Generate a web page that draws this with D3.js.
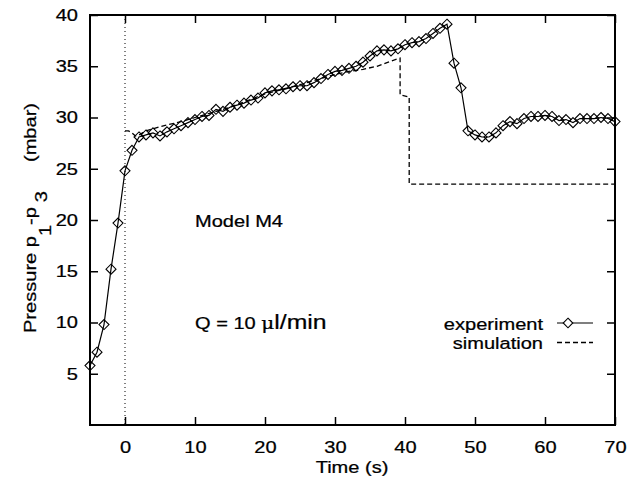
<!DOCTYPE html>
<html>
<head>
<meta charset="utf-8">
<script src="https://cdn.jsdelivr.net/npm/d3@7"></script>
<style>
  html, body { margin: 0; padding: 0; background: #fff; }
  svg { display: block; }
  text { font-family: "Liberation Sans", Arial, Helvetica, sans-serif; fill: #000; stroke: #000; stroke-width: 0.25; }
</style>
</head>
<body>
<svg id="chart" width="639" height="477"></svg>
<script>
// ---- data ----
const expTime = [-5,-4,-3,-2,-1,0,1,2,3,4,5,6,7,8,9,10,11,12,13,14,15,16,17,18,19,20,
  21,22,23,24,25,26,27,28,29,30,31,32,33,34,35,36,37,38,39,40,41,42,43,44,45,46,47,48,49,50,
  51,52,53,54,55,56,57,58,59,60,61,62,63,64,65,66,67,68,69,70];
const expPressure = [5.8,7.1,9.8,15.2,19.7,24.8,26.8,28.1,28.3,28.5,28.2,28.6,28.9,29.2,29.5,29.8,
  30.1,30.2,30.8,30.6,31.0,31.2,31.4,31.7,31.9,32.4,32.6,32.7,32.8,33.0,33.1,33.1,33.4,33.8,34.2,34.5,
  34.6,34.8,35.0,35.4,36.0,36.5,36.6,36.5,36.7,37.1,37.3,37.4,37.7,38.2,38.7,39.1,35.3,32.9,28.7,28.3,
  28.1,28.1,28.5,29.2,29.6,29.4,29.9,30.1,30.1,30.2,30.1,29.7,29.8,29.5,29.9,29.9,29.9,30.0,29.9,29.6];

const simTime = [0,0.5,1,1.5,2,3,5,8,10,15,20,25,28,30,32,34,36,38,39.3,39.3,40.6,40.6,70];
const simPressure = [28.7,28.7,28.5,28.2,28.3,28.7,29.1,29.6,30.0,31.0,32.3,33.2,33.8,34.2,34.5,34.7,35.0,35.5,35.8,32.2,32.0,23.5,23.5];

const xTicks = [0,10,20,30,40,50,60,70];
const yTicks = [5,10,15,20,25,30,35,40];
const xDomain = [-5, 70];
const yDomain = [0, 40];

// ---- layout ----
const svg = d3.select("#chart");
const pLeft = 90, pRight = 615, pTop = 15, pBottom = 425;
const x = d3.scaleLinear().domain(xDomain).range([pLeft, pRight]);
const y = d3.scaleLinear().domain(yDomain).range([pBottom, pTop]);
const fs = 17;      // font size
const sx = 1.18;    // horizontal widening of glyphs (wide Helvetica look)

// text helper: widened text anchored at (px,py)
function addText(px, py, anchor, rot, size) {
  const g = svg.append("g").attr("transform", `translate(${px},${py}) rotate(${rot || 0}) scale(${sx},1)`);
  return g.append("text").attr("x", 0).attr("y", 0).attr("text-anchor", anchor).attr("font-size", size || fs);
}

// zero reference dotted line
svg.append("line")
  .attr("x1", x(0)).attr("x2", x(0)).attr("y1", y(40)).attr("y2", y(0))
  .attr("stroke", "#000").attr("stroke-width", 1).attr("stroke-dasharray", "1,3");

// axes (ticks inward)
const tickLen = 8;
const gx = svg.append("g").attr("transform", `translate(0,${pBottom})`)
  .call(d3.axisBottom(x).tickValues(xTicks).tickSize(-tickLen).tickPadding(tickLen + 8).tickFormat(d3.format("d")));
const gxTop = svg.append("g").attr("transform", `translate(0,${pTop})`)
  .call(d3.axisTop(x).tickValues(xTicks).tickSize(-tickLen).tickFormat(""));
const gy = svg.append("g").attr("transform", `translate(${pLeft},0)`)
  .call(d3.axisLeft(y).tickValues(yTicks).tickSize(-tickLen).tickPadding(tickLen + 10).tickFormat(d3.format("d")));
const gyR = svg.append("g").attr("transform", `translate(${pRight},0)`)
  .call(d3.axisRight(y).tickValues(yTicks).tickSize(-tickLen).tickFormat(""));
[gx, gxTop, gy, gyR].forEach(g => {
  g.select(".domain").remove();
  g.selectAll(".tick line").attr("stroke", "#000").attr("stroke-width", 1.5);
  g.selectAll("text").attr("font-size", fs).attr("font-family", "Liberation Sans, Arial, sans-serif").attr("fill", "#000");
});
// widen tick labels
gx.selectAll(".tick text").attr("transform", `scale(${sx},1)`);
gy.selectAll(".tick text").attr("x", -12 / sx).attr("transform", `scale(${sx},1)`);

// frame
svg.append("rect").attr("x", pLeft).attr("y", pTop).attr("width", pRight - pLeft).attr("height", pBottom - pTop)
  .attr("fill", "none").attr("stroke", "#000").attr("stroke-width", 2);

// simulation (dashed)
const simData = simTime.map((t, i) => [t, simPressure[i]]);
svg.append("path").datum(simData)
  .attr("d", d3.line().x(d => x(d[0])).y(d => y(d[1])))
  .attr("fill", "none").attr("stroke", "#000").attr("stroke-width", 1.3).attr("stroke-dasharray", "5,3");

// experiment (line + diamonds)
const expData = expTime.map((t, i) => [t, expPressure[i]]);
svg.append("path").datum(expData)
  .attr("d", d3.line().x(d => x(d[0])).y(d => y(d[1])))
  .attr("fill", "none").attr("stroke", "#000").attr("stroke-width", 1.2);
const diamond = (cx, cy, r) => `M${cx},${cy - r}L${cx + r},${cy}L${cx},${cy + r}L${cx - r},${cy}Z`;
svg.append("g").selectAll("path").data(expData).join("path")
  .attr("d", d => diamond(x(d[0]), y(d[1]), 5))
  .attr("fill", "none").attr("stroke", "#000").attr("stroke-width", 1.1);

// axis titles
addText(352, 473, "middle").text("Time (s)");

const yl = addText(35.5, 333, "start", -90);
yl.append("tspan").text("Pressure p");
yl.append("tspan").attr("dy", 15).text("1");
yl.append("tspan").attr("dy", -15).text("-p");
yl.append("tspan").attr("dy", 11).attr("dx", 4).text("3");
addText(35.5, 103, "end", -90).text("(mbar)");

// annotations
addText(195, 227, "start").text("Model M4");
const q = addText(195, 329, "start");
q.append("tspan").text("Q = 10 ");
q.append("tspan").attr("font-family", "DejaVu Serif, serif").attr("font-size", 17).text("μ");
q.append("tspan").attr("font-size", 21).text("l/min");

// legend
addText(543, 330, "end").text("experiment");
addText(543, 349, "end").text("simulation");
svg.append("line").attr("x1", 557).attr("x2", 593).attr("y1", 323).attr("y2", 323)
  .attr("stroke", "#000").attr("stroke-width", 1.2);
svg.append("path").attr("d", diamond(568, 323, 4.8)).attr("fill", "#fff").attr("stroke", "#000").attr("stroke-width", 1.1);
svg.append("line").attr("x1", 557).attr("x2", 593).attr("y1", 342.5).attr("y2", 342.5)
  .attr("stroke", "#000").attr("stroke-width", 1.3).attr("stroke-dasharray", "5,3");
</script>
</body>
</html>
